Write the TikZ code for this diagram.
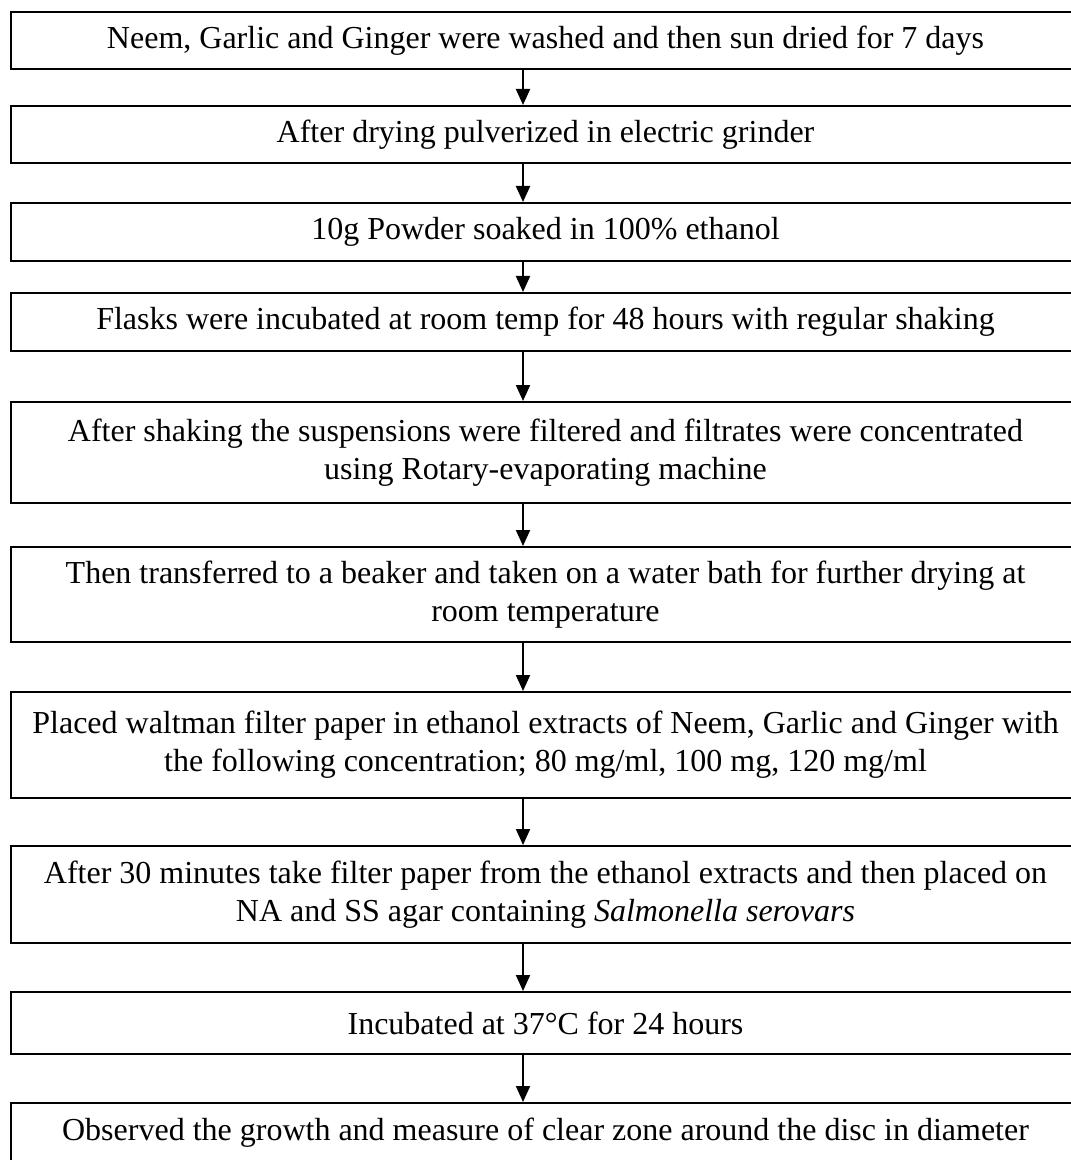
\documentclass[tikz,border=0pt]{standalone}
\usepackage{fontspec}
\setmainfont{Liberation Serif}
\usetikzlibrary{arrows.meta}

\begin{document}
\begin{tikzpicture}[x=0.5pt,y=-0.5pt,
  block/.style={rectangle,draw,line width=1pt,minimum width=534.5pt,align=center,inner sep=0pt,font=\fontsize{16}{19}\selectfont},
  flow/.style={line width=1pt,-{Triangle[width=7pt,length=8pt]}}]
\def\xMid{545.5}
\def\xArr{523}
\useasboundingbox (0,0) rectangle (1070,1160);
  %\draw[help lines,step=50] (0,0) grid (1070,1160);
\path
(\xMid,40.5) node [block,minimum height=28.5pt] (wash) {Neem, Garlic and Ginger were washed and then sun dried for 7 days}
(\xMid,134.5) node [block,minimum height=28.5pt] (grind) {After drying pulverized in electric grinder}
(\xMid,232) node [block,minimum height=29pt] (soak) {10g Powder soaked in 100\% ethanol}
(\xMid,322) node [block,minimum height=29pt] (incub) {Flasks were incubated at room temp for 48 hours with regular shaking}
(\xMid,452.5) node [block,minimum height=50.5pt] (filt) {After shaking the suspensions were filtered and filtrates were concentrated\\using Rotary-evaporating machine}
(\xMid,594.5) node [block,minimum height=47.5pt] (bath) {Then transferred to a beaker and taken on a water bath for further drying at\\room temperature}
(\xMid,745) node [block,minimum height=53pt] (paper) {Placed waltman filter paper in ethanol extracts of Neem, Garlic and Ginger with\\the following concentration; 80 mg/ml, 100 mg, 120 mg/ml}
(\xMid,894.5) node [block,minimum height=48.5pt] (agar) {After 30 minutes take filter paper from the ethanol extracts and then placed on\\NA and SS agar containing \textit{Salmonella serovars}}
(\xMid,1023) node [block,minimum height=31pt] (temp) {Incubated at 37°C for 24 hours}
(\xMid,1133) node [block,minimum height=30pt] (zone) {Observed the growth and measure of clear zone around the disc in diameter}
;

\coordinate (arr) at (\xArr,0);
% arrows between steps
\draw[flow] (wash.south -| arr) -- (grind.north -| arr);
\draw[flow] (grind.south -| arr) -- (soak.north -| arr);
\draw[flow] (soak.south -| arr) -- (incub.north -| arr);
\draw[flow] (incub.south -| arr) -- (filt.north -| arr);
\draw[flow] (filt.south -| arr) -- (bath.north -| arr);
\draw[flow] (bath.south -| arr) -- (paper.north -| arr);
\draw[flow] (paper.south -| arr) -- (agar.north -| arr);
\draw[flow] (agar.south -| arr) -- (temp.north -| arr);
\draw[flow] (temp.south -| arr) -- (zone.north -| arr);
\end{tikzpicture}
\end{document}
